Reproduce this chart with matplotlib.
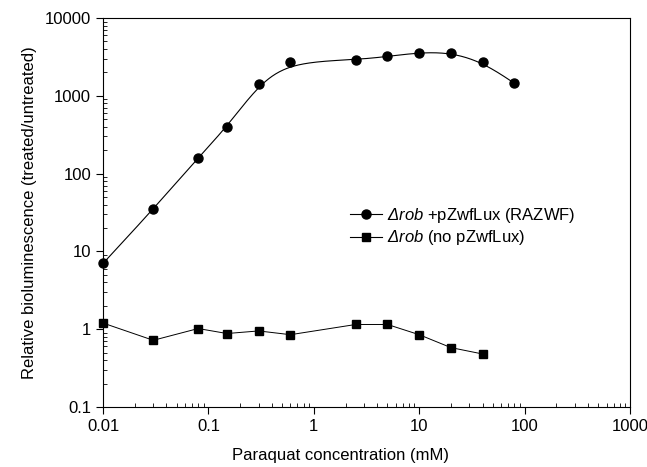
import numpy as np
import matplotlib
matplotlib.use("Agg")
import matplotlib.pyplot as plt
from matplotlib.ticker import LogLocator, FixedLocator, FixedFormatter, NullFormatter

plt.rcParams['font.family'] = ['Liberation Sans', 'DejaVu Sans']
plt.rcParams['mathtext.fontset'] = 'custom'
plt.rcParams['mathtext.it'] = 'Liberation Sans:italic'
# greek capitals are taken from the rm font in mathtext, so make it italic too
plt.rcParams['mathtext.rm'] = 'Liberation Sans:italic'

# Data
conc_wf = [0.01, 0.03, 0.08, 0.15, 0.3, 0.6, 2.5, 5, 10, 20, 40, 80]
lum_wf = [7, 35, 160, 400, 1400, 2700, 2900, 3200, 3600, 3600, 2700, 1450]
conc_no = [0.01, 0.03, 0.08, 0.15, 0.3, 0.6, 2.5, 5, 10, 20, 40]
lum_no = [1.2, 0.72, 1.02, 0.88, 0.95, 0.85, 1.15, 1.15, 0.85, 0.58, 0.48]

label_wf = r'$\mathit{Δrob}$ +pZwfLux (RAZWF)'
label_no = r'$\mathit{Δrob}$ (no pZwfLux)'


def bspline(xs, ys, n=40):
    # uniform cubic B-spline in log-log space, end points clamped
    px = np.log10(xs)
    py = np.log10(ys)
    px = np.concatenate([[px[0]] * 2, px, [px[-1]] * 2])
    py = np.concatenate([[py[0]] * 2, py, [py[-1]] * 2])
    outx, outy = [], []
    t = np.linspace(0, 1, n)
    b0 = (1 - t) ** 3 / 6
    b1 = (3 * t ** 3 - 6 * t ** 2 + 4) / 6
    b2 = (-3 * t ** 3 + 3 * t ** 2 + 3 * t + 1) / 6
    b3 = t ** 3 / 6
    for i in range(len(px) - 3):
        outx.extend(b0 * px[i] + b1 * px[i + 1] + b2 * px[i + 2] + b3 * px[i + 3])
        outy.extend(b0 * py[i] + b1 * py[i + 1] + b2 * py[i + 2] + b3 * py[i + 3])
    return 10 ** np.array(outx), 10 ** np.array(outy)


fig = plt.figure(figsize=(6.47, 4.67), dpi=100)
ax = fig.add_axes([103 / 647, 60 / 467, 527 / 647, 389 / 467])

sx, sy = bspline(conc_wf, lum_wf)
ax.plot(sx, sy, color='black', lw=0.8, zorder=2)
ax.plot(conc_wf, lum_wf, 'o', color='black', ms=6.5, zorder=3, clip_on=False)
ax.plot(conc_no, lum_no, '-s', color='black', lw=0.7, ms=5.5, zorder=3, clip_on=False)

# legend proxies
h1, = ax.plot([], [], '-o', color='black', lw=0.8, ms=6.5)
h2, = ax.plot([], [], '-s', color='black', lw=0.8, ms=5.5)
ax.legend([h1, h2], [label_wf, label_no], loc='upper left',
          bbox_to_anchor=(0.44, 0.555), frameon=False, fontsize=12,
          handlelength=1.9, handletextpad=0.35, labelspacing=0.2)

ax.set_xscale('log')
ax.set_yscale('log')
ax.set_xlim(0.01, 1000)
ax.set_ylim(0.1, 10000)

xt = [0.01, 0.1, 1, 10, 100, 1000]
yt = [0.1, 1, 10, 100, 1000, 10000]
ax.xaxis.set_major_locator(FixedLocator(xt))
ax.xaxis.set_major_formatter(FixedFormatter(['0.01', '0.1', '1', '10', '100', '1000']))
ax.yaxis.set_major_locator(FixedLocator(yt))
ax.yaxis.set_major_formatter(FixedFormatter(['0.1', '1', '10', '100', '1000', '10000']))
ax.xaxis.set_minor_locator(LogLocator(base=10, subs=np.arange(2, 10), numticks=20))
ax.yaxis.set_minor_locator(LogLocator(base=10, subs=np.arange(2, 10), numticks=20))
ax.xaxis.set_minor_formatter(NullFormatter())
ax.yaxis.set_minor_formatter(NullFormatter())

ax.tick_params(which='major', direction='out', length=5, width=0.8, labelsize=12)
ax.tick_params(which='minor', direction='in', length=3, width=0.6)
for s in ax.spines.values():
    s.set_linewidth(0.8)

ax.set_xlabel('Paraquat concentration (mM)', fontsize=12)
ax.xaxis.set_label_coords(0.45, -0.105)
ax.set_ylabel('Relative bioluminescence (treated/untreated)', fontsize=12, labelpad=6)

fig.savefig('out.png', dpi=100)
